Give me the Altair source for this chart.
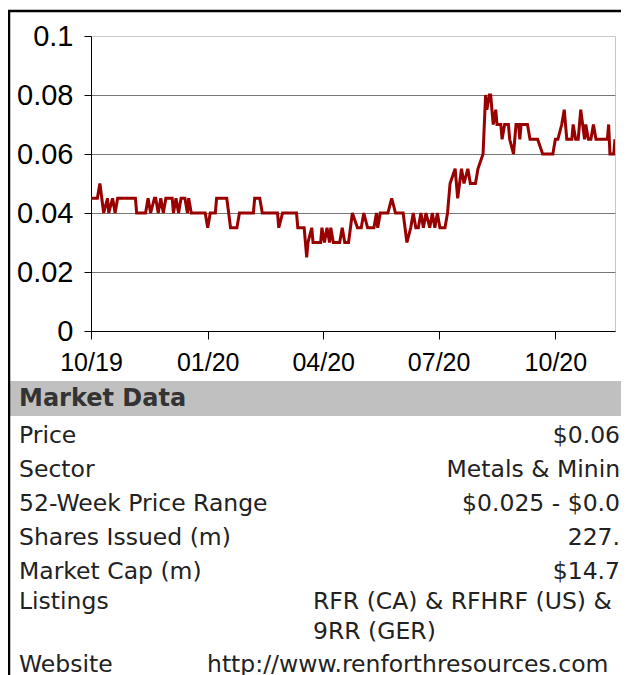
import altair as alt
import pandas as pd

# ---------------- data ----------------
dates = [
    "2019-10-01", "2019-10-06", "2019-10-08", "2019-10-11", "2019-10-14", "2019-10-15",
    "2019-10-18", "2019-10-20", "2019-10-22", "2019-11-05", "2019-11-06", "2019-11-13",
    "2019-11-15", "2019-11-17", "2019-11-20", "2019-11-21", "2019-11-23", "2019-11-25",
    "2019-11-27", "2019-11-29", "2019-12-04", "2019-12-05", "2019-12-07", "2019-12-09",
    "2019-12-11", "2019-12-14", "2019-12-16", "2019-12-17", "2019-12-19", "2019-12-30",
    "2020-01-01", "2020-01-03", "2020-01-07", "2020-01-08", "2020-01-16", "2020-01-19",
    "2020-01-24", "2020-01-26", "2020-02-06", "2020-02-07", "2020-02-11", "2020-02-13",
    "2020-02-25", "2020-02-26", "2020-02-29", "2020-03-11", "2020-03-12", "2020-03-17",
    "2020-03-19", "2020-03-20", "2020-03-23", "2020-03-24", "2020-03-30", "2020-03-31",
    "2020-04-02", "2020-04-04", "2020-04-06", "2020-04-07", "2020-04-09", "2020-04-14",
    "2020-04-16", "2020-04-18", "2020-04-21", "2020-04-24", "2020-04-28", "2020-05-01",
    "2020-05-03", "2020-05-06", "2020-05-11", "2020-05-13", "2020-05-14", "2020-05-16",
    "2020-05-22", "2020-05-25", "2020-05-28", "2020-06-03", "2020-06-06", "2020-06-09",
    "2020-06-11", "2020-06-13", "2020-06-15", "2020-06-17", "2020-06-19", "2020-06-21",
    "2020-06-24", "2020-06-26", "2020-06-28", "2020-06-30", "2020-07-02", "2020-07-06",
    "2020-07-08", "2020-07-10", "2020-07-14", "2020-07-16", "2020-07-19", "2020-07-21",
    "2020-07-24", "2020-07-26", "2020-07-30", "2020-08-01", "2020-08-05", "2020-08-07",
    "2020-08-08", "2020-08-10", "2020-08-11", "2020-08-13", "2020-08-15", "2020-08-16",
    "2020-08-19", "2020-08-20", "2020-08-22", "2020-08-25", "2020-08-26", "2020-08-29",
    "2020-08-31", "2020-09-02", "2020-09-03", "2020-09-04", "2020-09-09", "2020-09-11",
    "2020-09-17", "2020-09-21", "2020-09-29", "2020-10-01", "2020-10-03", "2020-10-06",
    "2020-10-08", "2020-10-10", "2020-10-14", "2020-10-15", "2020-10-17", "2020-10-19",
    "2020-10-21", "2020-10-24", "2020-10-25", "2020-10-27", "2020-10-29", "2020-10-31",
    "2020-11-02", "2020-11-11", "2020-11-12", "2020-11-13", "2020-11-16", "2020-11-17",
]
prices = [
    0.045, 0.045, 0.050, 0.040, 0.045, 0.040,
    0.045, 0.040, 0.045, 0.045, 0.040, 0.040,
    0.045, 0.040, 0.045, 0.045, 0.040, 0.045,
    0.040, 0.045, 0.045, 0.040, 0.045, 0.040,
    0.045, 0.045, 0.040, 0.045, 0.040, 0.040,
    0.035, 0.040, 0.040, 0.045, 0.045, 0.035,
    0.035, 0.040, 0.040, 0.045, 0.045, 0.040,
    0.040, 0.035, 0.040, 0.040, 0.035, 0.035,
    0.025, 0.030, 0.035, 0.030, 0.030, 0.035,
    0.030, 0.035, 0.030, 0.035, 0.030, 0.030,
    0.035, 0.030, 0.030, 0.040, 0.035, 0.035,
    0.040, 0.035, 0.035, 0.040, 0.035, 0.040,
    0.040, 0.045, 0.040, 0.040, 0.030, 0.035,
    0.040, 0.035, 0.035, 0.040, 0.035, 0.040,
    0.035, 0.040, 0.035, 0.040, 0.035, 0.035,
    0.040, 0.050, 0.055, 0.045, 0.055, 0.050,
    0.055, 0.050, 0.050, 0.055, 0.060, 0.080,
    0.075, 0.080, 0.080, 0.070, 0.075, 0.070,
    0.070, 0.065, 0.070, 0.070, 0.065, 0.060,
    0.070, 0.070, 0.065, 0.070, 0.070, 0.065,
    0.065, 0.060, 0.060, 0.065, 0.065, 0.070,
    0.075, 0.065, 0.065, 0.070, 0.065, 0.065,
    0.075, 0.065, 0.070, 0.065, 0.065, 0.070,
    0.065, 0.065, 0.070, 0.060, 0.060, 0.065,
]

y_ticks = [0, 0.02, 0.04, 0.06, 0.08, 0.1]
x_tick_months = [(2019, 10), (2020, 1), (2020, 4), (2020, 7), (2020, 10)]
x_domain = [(2019, 10, 1), (2020, 11, 17)]

header = "Market Data"
row_labels = ["Price", "Sector", "52-Week Price Range", "Shares Issued (m)",
              "Market Cap (m)", "Listings", "Website"]
row_values = [["$0.065"], ["Metals & Mining"], ["$0.025 - $0.09"], ["227.3"],
              ["$14.77"], ["RFR (CA) & RFHRF (US) &", "9RR (GER)"],
              ["http://www.renforthresources.com"]]
row_kind = ["right", "right", "right", "right", "right", "listing", "website"]

# ---------------- build tables ----------------
price_df = pd.DataFrame({"date": dates, "price": prices})

lab_rows, val_rows = [], []
line_no = 0
for lab, vals, kind in zip(row_labels, row_values, row_kind):
    lab_rows.append({"label": lab, "line": line_no})
    for v in vals:
        val_rows.append({"value": v, "line": line_no, "kind": kind})
        line_no += 1
lab_df = pd.DataFrame(lab_rows)
val_df = pd.DataFrame(val_rows)

one = pd.DataFrame({"k": [0]})

W, H = 524, 295
TEXT_FONT = "DejaVu Sans"
AX_FONT = "Liberation Sans"

row_scale = alt.Scale(domain=[0, 4, 6, 7], range=[400, 536, 596, 629], nice=False, zero=False)

# ---------------- price line ----------------
line = alt.Chart(price_df).mark_line(color="#990000", strokeWidth=3, clip=True).encode(
    x=alt.X("date:T",
            scale=alt.Scale(type="utc",
                            domain=[alt.DateTime(year=y, month=m, date=d, utc=True) for (y, m, d) in x_domain]),
            axis=alt.Axis(values=[alt.DateTime(year=y, month=m, date=1, utc=True) for (y, m) in x_tick_months],
                          format="%m/%y", title=None, grid=False, labelFlush=False, labelOverlap=False,
                          labelFont=AX_FONT, labelFontSize=25, labelColor="black",
                          tickColor="black", tickSize=8, tickWidth=1, labelPadding=11,
                          domainColor="black", domainWidth=1)),
    y=alt.Y("price:Q",
            scale=alt.Scale(domain=[0, 0.1], nice=False),
            axis=alt.Axis(values=y_ticks, format="~g", title=None, grid=True,
                          gridColor={"condition": {"test": "datum.value >= 0.099", "value": "#c8c8c8"},
                                     "value": "#777777"},
                          gridWidth=1, labelFont=AX_FONT, labelFontSize=29, labelColor="black",
                          tickColor="black", tickSize=7, tickWidth=1, labelPadding=11,
                          domainColor="black", domainWidth=1)),
)

# ---------------- decorations ----------------
border_v = alt.Chart(one).mark_rule(color="black", strokeWidth=2.5).encode(
    x=alt.value(-82), y=alt.value(-25), y2=alt.value(700))
border_h = alt.Chart(one).mark_rule(color="black", strokeWidth=2.5).encode(
    x=alt.value(-83.25), x2=alt.value(560), y=alt.value(-25))
band = alt.Chart(one).mark_rect(color="#c0c0c0").encode(
    x=alt.value(-81), x2=alt.value(560), y=alt.value(345), y2=alt.value(380))
head = alt.Chart(one).mark_text(text=header, font=TEXT_FONT, fontSize=24, fontWeight="bold",
                                color="#333333", align="left", baseline="middle").encode(
    x=alt.value(-72), y=alt.value(363))

# ---------------- table text ----------------
labels = alt.Chart(lab_df).mark_text(font=TEXT_FONT, fontSize=23.5, color="#222222",
                                     align="left", baseline="middle").encode(
    x=alt.value(-72), y=alt.Y("line:Q", scale=row_scale, axis=None), text="label:N")

vals_right = alt.Chart(val_df).transform_filter("datum.kind == 'right'").mark_text(
    font=TEXT_FONT, fontSize=23.5, color="#222222", align="right", baseline="middle").encode(
    x=alt.value(544), y=alt.Y("line:Q", scale=row_scale, axis=None), text="value:N")

vals_listing = alt.Chart(val_df).transform_filter("datum.kind == 'listing'").mark_text(
    font=TEXT_FONT, fontSize=23.5, color="#222222", align="left", baseline="middle").encode(
    x=alt.value(222), y=alt.Y("line:Q", scale=row_scale, axis=None), text="value:N")

vals_web = alt.Chart(val_df).transform_filter("datum.kind == 'website'").mark_text(
    font=TEXT_FONT, fontSize=23.5, color="#222222", align="left", baseline="middle").encode(
    x=alt.value(116), y=alt.Y("line:Q", scale=row_scale, axis=None), text="value:N")

chart = alt.layer(
    band, border_v, border_h, head, line, labels, vals_right, vals_listing, vals_web
).resolve_scale(y="independent", x="independent").properties(
    width=W, height=H,
    autosize=alt.AutoSizeParams(type="none"),
    padding={"left": 83, "top": 28, "right": 6, "bottom": 356},
    background="white",
).configure_view(stroke="#c8c8c8", strokeWidth=1)

chart.save("out.html", embed_options={"renderer": "svg", "actions": False})
